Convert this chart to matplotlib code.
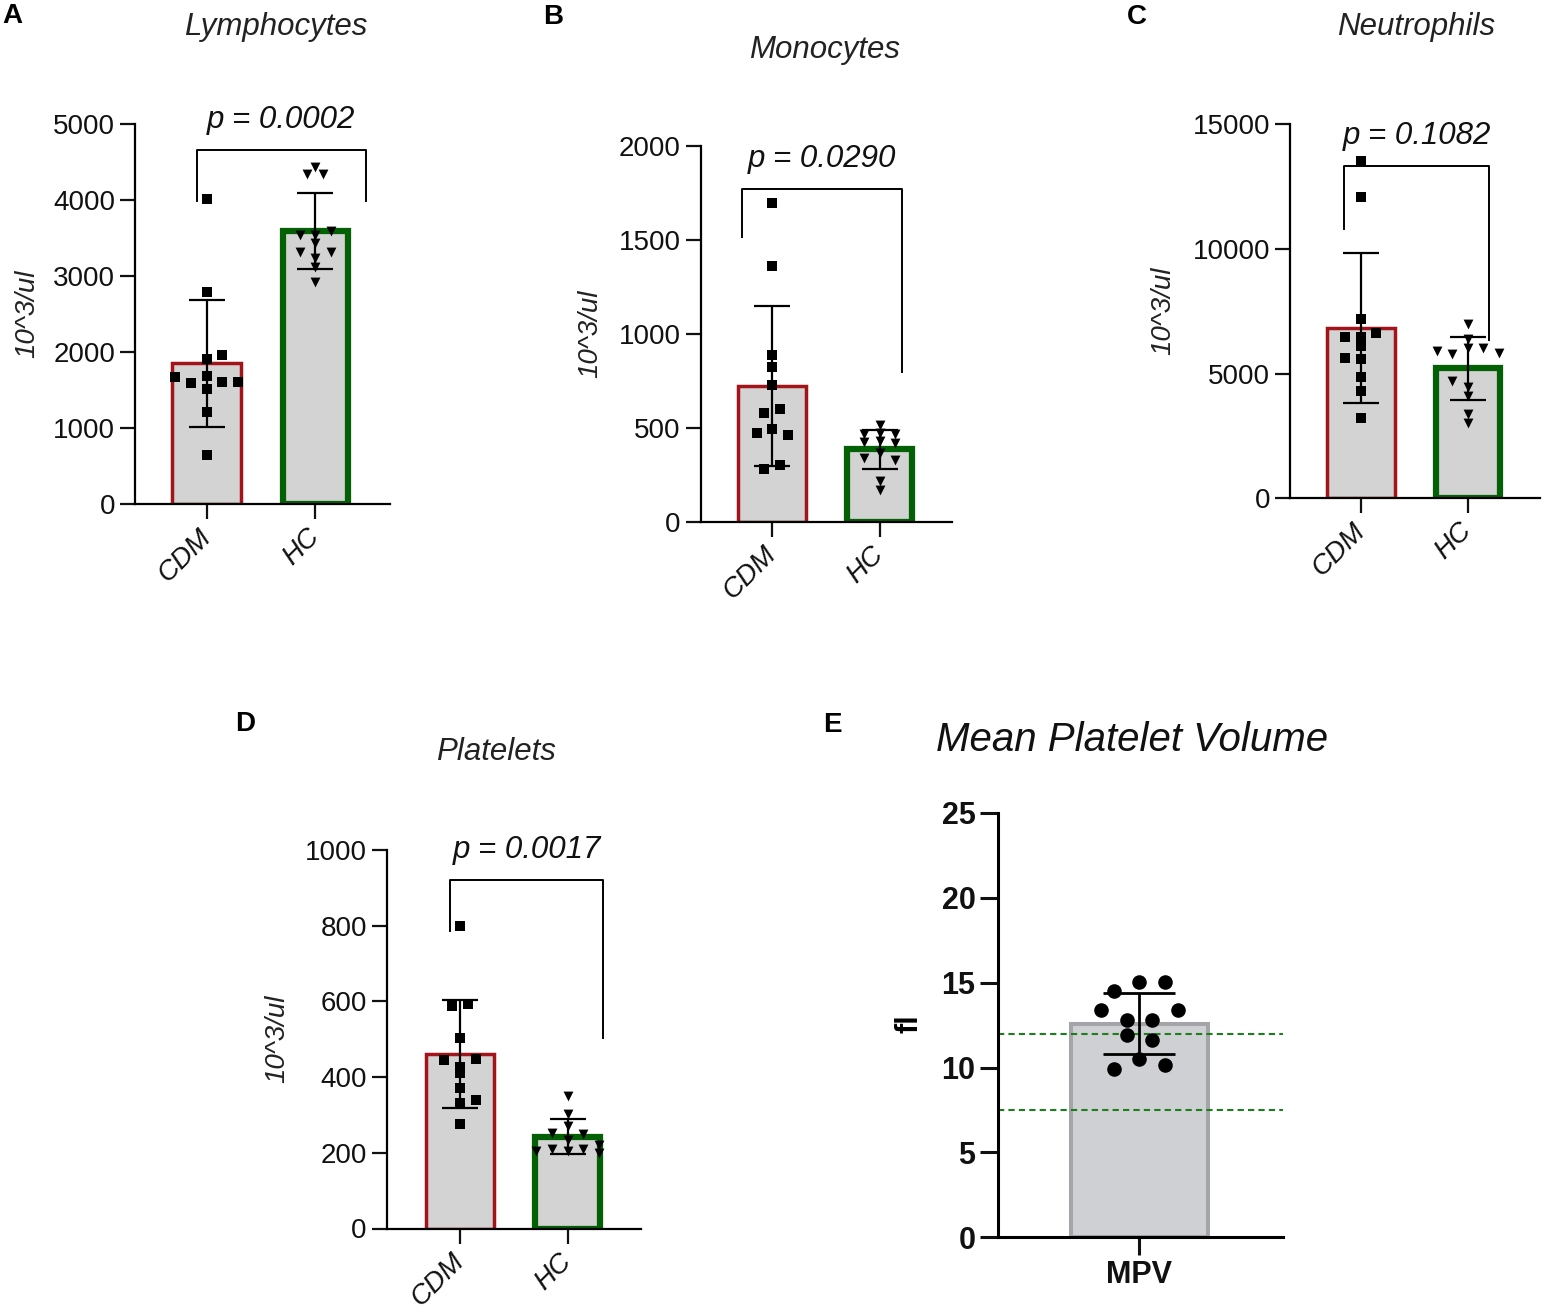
import numpy as np
import matplotlib.pyplot as plt

plt.rcParams['font.family'] = ['Liberation Sans', 'DejaVu Sans']

W, H = 1544, 1313
DPI = 100

groups = ["CDM", "HC"]

# values (10^3/ul), slot = sideways position of the dot in the column
lymph_cdm = [4010, 2790, 1915, 1959, 1672, 1593, 1691, 1510, 1606, 1606, 1215, 651]
lymph_cdm_slot = [0, 0, 0, 1, -2, -1, 0, 0, 1, 2, 0, 0]
lymph_hc = [4438, 4337, 4337, 3588, 3544, 3540, 3439, 3316, 3316, 3236, 3126, 2928]
lymph_hc_slot = [0, -0.5, 0.5, 1, -1, 0, 0, -1, 1, 0, 0, 0]

mono_cdm = [1693, 1360, 887, 825, 727, 577, 598, 470, 491, 461, 280, 301]
mono_cdm_slot = [0, 0, 0, 0, 0, -0.5, 0.5, -1, 0, 1, -0.5, 0.5]
mono_hc = [514, 466, 473, 466, 424, 430, 418, 338, 368, 328, 218, 168]
mono_hc_slot = [0, -1, 0, 1, -1, 0, 1, -1, 0, 1, 0, 0]

neut_cdm = [13504, 12092, 7172, 6464, 6464, 6624, 6092, 5624, 5600, 4864, 4292, 3200]
neut_cdm_slot = [0, 0, 0, -1, 0, 1, 0, -1, 0, 0, 0, 0]
neut_hc = [7000, 6400, 5904, 5800, 6040, 5824, 6040, 4704, 4464, 4092, 3372, 3000]
neut_hc_slot = [0, 0, -2, -1, 1, 2, 0, -1, 0, 0, 0, 0]

plt_cdm = [798, 589, 592, 502, 444, 448, 428, 411, 371, 340, 331, 277]
plt_cdm_slot = [0, -0.5, 0.5, 0, -1, 1, 0, 0, 0, 1, 0, 0]
plt_hc = [349, 303, 271, 253, 250, 234, 206, 209, 206, 209, 221, 199]
plt_hc_slot = [0, 0, 0, -1, 1, 0, -2, -1, 0, 1, 2, 2]

# mean platelet volume (fl) and reference range
mpv = [14.49, 15.02, 15.02, 13.41, 13.41, 12.78, 12.78, 11.94, 11.61, 10.51, 10.18, 9.94]
mpv_slot = [-2, 0, 2, -3, 3, -1, 1, -1, 1, 0, 2, -2]
mpv_ref = [7.5, 12]

RED = "#a3141a"
GREEN = "#046004"
FILL = "#d3d3d3"


def px_axes(fig, x0, x1, yb, yt):
  return fig.add_axes([x0/W, 1 - yb/H, (x1 - x0)/W, (yb - yt)/H])


def style(ax, lw=1.6, tick=10.8):
  for s in ["top", "right"]:
    ax.spines[s].set_visible(False)
  for s in ["left", "bottom"]:
    ax.spines[s].set_linewidth(lw)
  ax.tick_params(length=tick, width=lw, colors="#111111")


def group_panel(ax, cdm, cdm_slot, hc, hc_slot, ymax, ystep, xlim, bracket, ptext):
  style(ax)
  data = [np.array(cdm), np.array(hc)]
  slots = [np.array(cdm_slot), np.array(hc_slot)]
  edges = [RED, GREEN]
  lws = [2.5, 4.5]
  widths = [0.63, 0.6]
  marks = ["s", "v"]
  for i in range(2):
    m = data[i].mean()
    sd = data[i].std(ddof=1)
    ax.bar(i, m, width=widths[i], color=FILL, edgecolor=edges[i], linewidth=lws[i], zorder=1)
    ax.errorbar(i, m, yerr=sd, fmt="none", ecolor="black", elinewidth=1.6,
                capsize=13, capthick=1.6, zorder=2)
    ax.scatter(i + slots[i]*0.145, data[i], marker=marks[i], s=50, color="black",
               linewidths=0, zorder=3, clip_on=False)
  ax.set_xlim(*xlim)
  ax.set_ylim(0, ymax)
  ax.set_yticks(np.arange(0, ymax + 1, ystep))
  ax.set_xticks([0, 1])
  ax.set_xticklabels(groups, rotation=45, ha="right", va="center",
                     rotation_mode="anchor", style="italic")
  ax.tick_params(labelsize=20)
  ax.tick_params(axis="x", pad=10)
  bx0, bx1, btop, by0, by1 = bracket
  ax.plot([bx0, bx0, bx1, bx1], [by0, btop, btop, by1], color="black", lw=1.4,
          clip_on=False)
  ax.annotate(ptext, xy=((bx0 + bx1)/2, btop), xytext=(0, 21.5),
              textcoords="offset points", ha="center", va="center",
              style="italic", fontsize=22.5, color="#111111", annotation_clip=False)


fig = plt.figure(figsize=(W/DPI, H/DPI), dpi=DPI)

axA = px_axes(fig, 135, 390, 504.3, 124)
group_panel(axA, lymph_cdm, lymph_cdm_slot, lymph_hc, lymph_hc_slot, 5000, 1000,
            (-0.660, 1.688), (-0.09, 1.467, 4660, 3985, 3985), "p = 0.0002")

axB = px_axes(fig, 700.7, 951.7, 521.7, 145.7)
group_panel(axB, mono_cdm, mono_cdm_slot, mono_hc, mono_hc_slot, 2000, 500,
            (-0.664, 1.67), (-0.28, 1.21, 1770, 1513, 798), "p = 0.0290")

axC = px_axes(fig, 1290, 1540, 498.3, 124)
group_panel(axC, neut_cdm, neut_cdm_slot, neut_hc, neut_hc_slot, 15000, 5000,
            (-0.665, 1.678), (-0.156, 1.2, 13332, 10800, 6332), "p = 0.1082")

axD = px_axes(fig, 386.7, 641, 1228.5, 850)
group_panel(axD, plt_cdm, plt_cdm_slot, plt_hc, plt_hc_slot, 1000, 200,
            (-0.68, 1.68), (-0.093, 1.33, 920, 785, 503), "p = 0.0017")

# panel E: single bar with reference range
axE = px_axes(fig, 998.3, 1283, 1237.3, 813)
style(axE, lw=2.2, tick=13)
v = np.array(mpv)
axE.bar(0, v.mean(), width=0.643, color="#cfd0d3", edgecolor="#a4a5a8", linewidth=2.9, zorder=1)
for r in mpv_ref:
  axE.axhline(r, color="#1b7f1b", lw=1.5, ls=(0, (3, 2)), zorder=1.5)
axE.errorbar(0, v.mean(), yerr=v.std(ddof=1), fmt="none", ecolor="black", elinewidth=2,
             capsize=26, capthick=2, zorder=2)
axE.scatter(np.array(mpv_slot)*0.06, v, marker="o", s=110, color="black", linewidths=0, zorder=3)
axE.set_xlim(-0.663, 0.674)
axE.set_ylim(0, 25)
axE.set_yticks(np.arange(0, 26, 5))
axE.set_xticks([0])
axE.set_xticklabels(["MPV"])
axE.tick_params(labelsize=22)
for t in axE.get_xticklabels() + axE.get_yticklabels():
  t.set_fontweight("bold")

# titles, axis labels, panel letters
def ftext(x, y, s, **kw):
  fig.text(x/W, 1 - y/H, s, ha="center", va="center", **kw)

ftext(276, 27, "Lymphocytes", style="italic", fontsize=22.5, color="#222222")
ftext(825, 50, "Monocytes", style="italic", fontsize=22.5, color="#222222")
ftext(1416, 27, "Neutrophils", style="italic", fontsize=22.5, color="#222222")
ftext(496, 752, "Platelets", style="italic", fontsize=22.5, color="#222222")
ftext(1132, 740, "Mean Platelet Volume", style="italic", fontsize=29, color="#111111")

for x, y in [(27, 314), (590, 334), (1163, 311), (277, 1039)]:
  ftext(x, y, "10^3/ul", style="italic", fontsize=20, rotation=90, color="#222222")
ftext(910, 1024, "fl", fontweight="bold", fontsize=22, rotation=90)

for x, y, s in [(12, 16, "A"), (553, 17, "B"), (1137, 17, "C"), (245, 724, "D"), (832, 725, "E")]:
  ftext(x, y, s, fontweight="bold", fontsize=20)

fig.savefig("out.png", dpi=DPI)
